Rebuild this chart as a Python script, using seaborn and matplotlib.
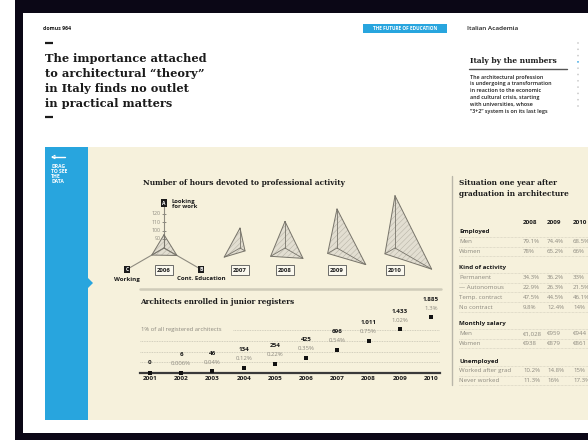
import matplotlib
matplotlib.use("Agg")
import matplotlib.pyplot as plt
import seaborn as sns
import numpy as np
from matplotlib.patches import Rectangle, Polygon

# hours devoted to professional activity (A looking for work, B cont. education, C working)
radar_years = [2006, 2007, 2008, 2009, 2010]
looking_for_work = [95, 103, 111, 126, 142]
cont_education = [97, 86, 104, 119, 130]
working = [96, 101, 99, 92, 93]
radar_ticks = [90, 100, 110, 120]

# architects enrolled in junior registers
reg_years = [2001, 2002, 2003, 2004, 2005, 2006, 2007, 2008, 2009, 2010]
reg_counts = [0, 6, 46, 134, 254, 425, 696, 1011, 1433, 1885]
reg_pct = [0, 0.006, 0.04, 0.12, 0.22, 0.35, 0.54, 0.75, 1.02, 1.3]

# situation one year after graduation
table_years = ["2008", "2009", "2010"]
employed_labels = ["Men", "Women"]
employed_vals = [["79.1%", "74.4%", "68.5%"], ["78%", "65.2%", "66%"]]
activity_labels = ["Permanent", "\u2014 Autonomous", "Temp. contract", "No contract"]
activity_vals = [["34.3%", "36.2%", "33%"], ["22.9%", "26.3%", "21.5%"],
                 ["47.5%", "44.5%", "46.1%"], ["9.8%", "12.4%", "14%"]]
salary_labels = ["Men", "Women"]
salary_vals = [["\u20ac1,028", "\u20ac959", "\u20ac944"], ["\u20ac938", "\u20ac879", "\u20ac861"]]
unemployed_labels = ["Worked after grad", "Never worked"]
unemployed_vals = [["10.2%", "14.8%", "15%"], ["11.3%", "16%", "17.3%"]]

sns.set_theme(style="white")
plt.rcParams['font.family'] = ['Open Sans', 'DejaVu Sans']
plt.rcParams['hatch.linewidth'] = 0.35
plt.rcParams['hatch.color'] = '#b3afa2'

W, H = 588, 442
DARK = '#1b1b1b'
GREY = '#8c897f'
BEIGE = '#f6f1dc'
BLUE = '#28a5de'
SERIF = 'DejaVu Serif'

fig = plt.figure(figsize=(W / 100, H / 100), dpi=100, facecolor='white')

# background page in pixel coordinates
bg = fig.add_axes([0, 0, 1, 1])
bg.set_xlim(0, W)
bg.set_ylim(H, 0)
bg.axis('off')
bg.add_patch(Rectangle((15, 0), 600, 440, fc='#0b0716', ec='none'))
bg.add_patch(Rectangle((23, 13), 600, 420, fc='white', ec='none'))
bg.add_patch(Rectangle((45, 147), 600, 273, fc=BEIGE, ec='none'))
bg.add_patch(Rectangle((45, 147), 43, 273, fc=BLUE, ec='none'))
bg.add_patch(Polygon([(88, 278), (93, 283), (88, 288)], fc=BLUE, ec='none'))

# header
bg.text(43, 29, "domus 964", fontsize=3.8, fontweight='bold', color=DARK, va='center')
bg.plot([45, 53], [43, 43], color=DARK, lw=1.6, solid_capstyle='butt')
title = ["The importance attached", "to architectural \u201ctheory\u201d",
         "in Italy finds no outlet", "in practical matters"]
for i, line in enumerate(title):
    bg.text(45, 59 + 14.7 * i, line, family=SERIF, fontweight='bold', fontsize=8.2,
            color=DARK, va='center')
bg.plot([45, 53], [117, 117], color=DARK, lw=1.6, solid_capstyle='butt')

bg.add_patch(Rectangle((363, 24), 84, 9, fc=BLUE, ec='none'))
bg.text(405, 28.7, "THE FUTURE OF EDUCATION", fontsize=3.4, fontweight='bold', color='white',
        ha='center', va='center')
bg.text(467, 29, "Italian Academia", fontsize=4.6, fontweight='semibold', color=DARK, va='center')

bg.text(470, 61, "Italy by the numbers", family=SERIF, fontweight='bold', fontsize=5.4,
        color=DARK, va='center')
bg.plot([469, 567], [69, 69], color='#555555', lw=1)
para = ["The architectural profession", "is undergoing a transformation",
        "in reaction to the economic", "and cultural crisis, starting",
        "with universities, whose", "\u201c3+2\u201d system is on its last legs"]
for i, line in enumerate(para):
    bg.text(470, 77 + 6.9 * i, line, fontsize=3.9, fontweight='semibold', color=DARK, va='center')
dots_y = [43 + 6.3 * i for i in range(11)]
bg.scatter([578] * 11, dots_y, s=1.5, color=['#c8c8c8'] * 3 + ['#2a9fe0'] + ['#c8c8c8'] * 7,
           linewidths=0)

# blue side strip
bg.plot([52, 65], [157, 157], color='white', lw=1)
bg.plot([52, 55, 55, 52], [157, 155.2, 158.8, 157], color='white', lw=0.6)
bg.text(51, 164, "DRAG\nTO SEE\nTHE\nDATA", fontsize=3.6, fontweight='bold', color='white',
        va='top', linespacing=1.0)

# hours devoted: radar charts
bg.text(143, 183, "Number of hours devoted to professional activity", family=SERIF,
        fontweight='bold', fontsize=5.3, color=DARK, va='center')
radar_x = [164, 240, 285, 337, 395]
cy = 248
R0, RMAX, PX = 79, 150, 0.83
rad = (RMAX - R0) * PX
theta = np.deg2rad([90, 330, 210])
box_kw = dict(boxstyle='square,pad=0.25', fc=DARK, ec='none')
for i, yr in enumerate(radar_years):
    cx = radar_x[i]
    pax = fig.add_axes([(cx - rad) / W, 1 - (cy + rad) / H, 2 * rad / W, 2 * rad / H],
                       projection='polar')
    pax.set_ylim(R0, RMAX)
    pax.axis('off')
    pax.patch.set_alpha(0)
    vals = [looking_for_work[i], cont_education[i], working[i]]
    if i == 0:
        for t, r in zip(theta, [131, 128, 128]):
            pax.plot([t, t], [R0, r], color='#8e8b80', lw=0.8)
        pax.plot([np.pi / 2] * len(radar_ticks), radar_ticks, ls='none', marker='_',
                 ms=3, color='#8e8b80', mew=0.6)
        for t in radar_ticks:
            pax.annotate(str(t), xy=(np.pi / 2, t), xytext=(-3, 0), textcoords='offset pixels',
                         ha='right', va='center', fontsize=3.8, color=GREY)
        for t, r, lab in zip(theta, [133, 130.5, 130.5], ["A", "B", "C"]):
            pax.annotate(lab, xy=(t, r), ha='center', va='center', fontsize=3.6,
                         fontweight='bold', color='white', bbox=box_kw, annotation_clip=False)
        pax.annotate("Looking\nfor work", xy=(theta[0], 133), xytext=(8, 4),
                     textcoords='offset pixels', ha='left', va='top', fontsize=4.2,
                     fontweight='bold', color=DARK, linespacing=0.95)
        pax.annotate("Cont. Education", xy=(theta[1], 130.5), xytext=(0, -9),
                     textcoords='offset pixels', ha='center', va='center', fontsize=4.4,
                     fontweight='bold', color=DARK)
        pax.annotate("Working", xy=(theta[2], 130.5), xytext=(0, -10),
                     textcoords='offset pixels', ha='center', va='center', fontsize=4.4,
                     fontweight='bold', color=DARK)
    pax.fill(theta, vals, facecolor='#e2ded1', edgecolor='#b3afa2', hatch='//////', lw=0)
    pax.plot(np.append(theta, theta[0]), vals + vals[:1], color='#77746a', lw=0.7)
    for t, v in zip(theta, vals):
        pax.plot([t, t], [R0, v], color='#77746a', lw=0.6)
    pax.annotate(str(yr), xy=(0, R0), xytext=(0, -22), textcoords='offset pixels',
                 ha='center', va='center', fontsize=4.3, fontweight='bold', color=DARK,
                 bbox=dict(boxstyle='square,pad=0.35', fc='#fbf9ef', ec='#555555', lw=0.6))

# junior registers
bg.plot([140, 441], [289, 289], color='#cfcbb9', lw=1.8)
bg.text(140, 302, "Architects enrolled in junior registers", family=SERIF, fontweight='bold',
        fontsize=5.2, color=DARK, va='center')
ax = fig.add_axes([140 / W, 1 - 373 / H, 300 / W, 78 / H])
ax.patch.set_alpha(0)
ax.set_xlim(2000.68, 2010.29)
ax.set_ylim(0, 78 / 43)
for g in [0.25, 0.5, 0.75]:
    ax.axhline(g, color='#c6c3b3', lw=0.6, ls=(0, (1, 1)), zorder=1)
ax.axhline(1.0, xmin=0.31, color='#c6c3b3', lw=0.6, ls=(0, (1, 1)), zorder=1)
ax.text(2000.72, 1.0, "1% of all registered architects", fontsize=4.2, color=GREY, va='center')
sns.scatterplot(x=reg_years, y=reg_pct, marker='s', s=5, color='#111111', linewidth=0,
                ax=ax, clip_on=False, zorder=3)
for yr, c, p in zip(reg_years, reg_counts, reg_pct):
    count = f"{c:,}".replace(",", ".")
    if p > 0:
        ax.annotate(f"{p:g}%", xy=(yr, p), xytext=(0, 9), textcoords='offset pixels',
                    ha='center', va='center', fontsize=4.3, color=GREY)
        ax.annotate(count, xy=(yr, p), xytext=(0, 18), textcoords='offset pixels',
                    ha='center', va='center', fontsize=4.5, fontweight='bold', color=DARK)
    else:
        ax.annotate(count, xy=(yr, p), xytext=(0, 10), textcoords='offset pixels',
                    ha='center', va='center', fontsize=4.5, fontweight='bold', color=DARK)
sns.despine(ax=ax, left=True)
ax.spines['bottom'].set_color('#3a3a3a')
ax.spines['bottom'].set_linewidth(1.6)
ax.set_xticks(reg_years)
ax.set_xticklabels([str(y) for y in reg_years], fontsize=4.6, fontweight='bold', color=DARK)
ax.set_yticks([])
ax.tick_params(axis='x', length=0, pad=2.5)

# situation one year after graduation: table
bg.plot([452, 452], [176, 385], color='#b9b6a9', lw=1)
bg.text(459, 183, "Situation one year after", family=SERIF, fontweight='bold', fontsize=5.3,
        color=DARK, va='center')
bg.text(459, 193.5, "graduation in architecture", family=SERIF, fontweight='bold', fontsize=5.3,
        color=DARK, va='center')
col_x = [523, 547, 573]
for x, yr in zip(col_x, table_years):
    bg.text(x, 223, yr, fontsize=4.5, fontweight='bold', color=DARK, va='center')
sections = [("Employed", employed_labels, employed_vals),
            ("Kind of activity", activity_labels, activity_vals),
            ("Monthly salary", salary_labels, salary_vals),
            ("Unemployed", unemployed_labels, unemployed_vals)]
section_y = [232, 268, 324, 361]
for (head, labels, vals), y0 in zip(sections, section_y):
    bg.text(459, y0, head, fontsize=4.5, fontweight='bold', color=DARK, va='center')
    bg.plot([459, 600], [y0 + 4.8, y0 + 4.8], color='#cdc9b8', lw=0.5, ls=(0, (1, 1)))
    for j, (lab, row) in enumerate(zip(labels, vals)):
        y = y0 + 9.8 * (j + 1)
        bg.text(459, y, lab, fontsize=4.4, color=GREY, va='center')
        for x, v in zip(col_x, row):
            bg.text(x, y, v, fontsize=4.4, color=GREY, va='center')
        bg.plot([459, 600], [y + 4.8, y + 4.8], color='#cdc9b8', lw=0.5, ls=(0, (1, 1)))

fig.savefig("out.png", dpi=100, facecolor='white')
